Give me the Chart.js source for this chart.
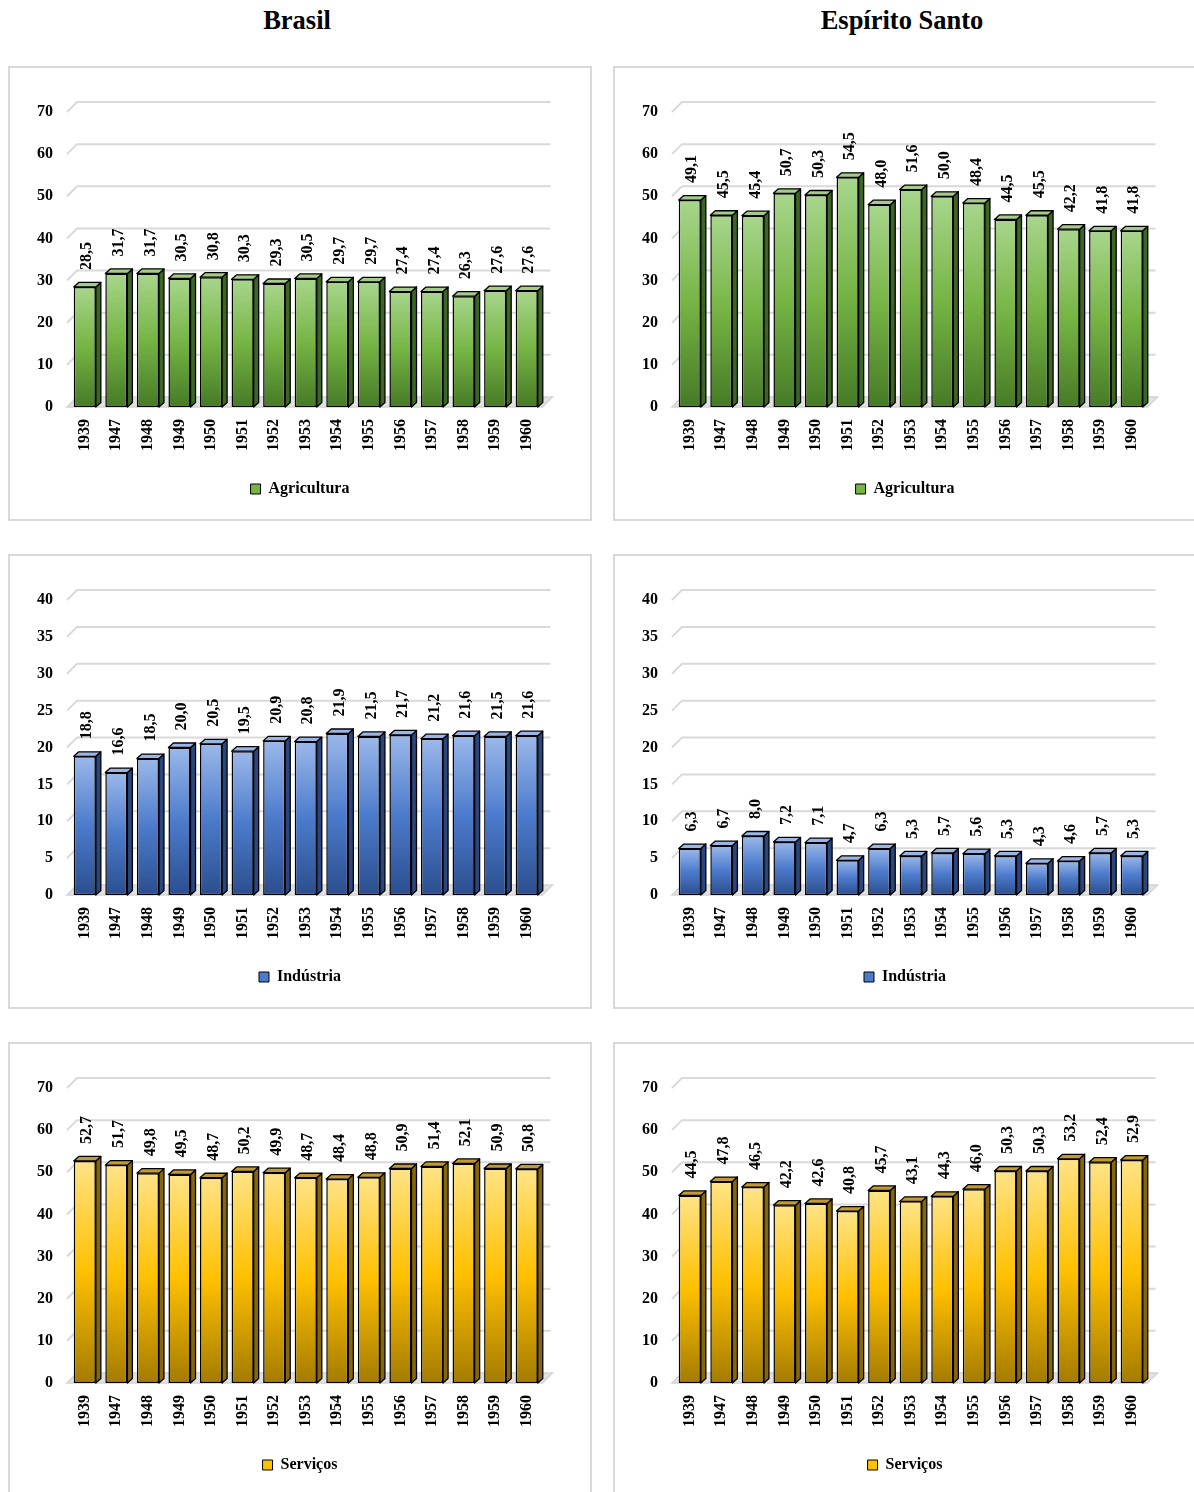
<!DOCTYPE html>
<html lang="pt">
<head>
<meta charset="utf-8">
<title>Brasil e Espírito Santo – composição setorial 1939-1960</title>
<script src="https://cdn.jsdelivr.net/npm/chart.js@4.4.1/dist/chart.umd.min.js"></script>
<style>
  html, body { margin: 0; padding: 0; background: #fff; }
  body { position: relative; width: 1194px; height: 1492px; overflow: hidden;
         font-family: "Liberation Serif", "Times New Roman", serif; }
  .title { position: absolute; top: 5px; width: 500px; text-align: center;
           font-weight: bold; font-size: 26.5px; color: #000; }
  .panel { position: absolute; box-sizing: border-box; border: 2px solid #d9d9d9; }
  canvas { position: absolute; }
</style>
</head>
<body>
<div class="title" style="left:47px">Brasil</div>
<div class="title" style="left:652px">Espírito Santo</div>
<div id="wrap"></div>
<script>
// ---- data -------------------------------------------------------------
const years = ['1939', '1947', '1948', '1949', '1950', '1951', '1952', '1953',
               '1954', '1955', '1956', '1957', '1958', '1959', '1960'];

const brAgricultura = [28.5, 31.7, 31.7, 30.5, 30.8, 30.3, 29.3, 30.5, 29.7, 29.7, 27.4, 27.4, 26.3, 27.6, 27.6];
const esAgricultura = [49.1, 45.5, 45.4, 50.7, 50.3, 54.5, 48.0, 51.6, 50.0, 48.4, 44.5, 45.5, 42.2, 41.8, 41.8];
const brIndustria   = [18.8, 16.6, 18.5, 20.0, 20.5, 19.5, 20.9, 20.8, 21.9, 21.5, 21.7, 21.2, 21.6, 21.5, 21.6];
const esIndustria   = [6.3, 6.7, 8.0, 7.2, 7.1, 4.7, 6.3, 5.3, 5.7, 5.6, 5.3, 4.3, 4.6, 5.7, 5.3];
const brServicos    = [52.7, 51.7, 49.8, 49.5, 48.7, 50.2, 49.9, 48.7, 48.4, 48.8, 50.9, 51.4, 52.1, 50.9, 50.8];
const esServicos    = [44.5, 47.8, 46.5, 42.2, 42.6, 40.8, 45.7, 43.1, 44.3, 46.0, 50.3, 50.3, 53.2, 52.4, 52.9];

const setores = ['Agricultura', 'Indústria', 'Serviços'];
const axisMax  = [70, 40, 70];
const axisStep = [10, 5, 10];

// ---- styling ----------------------------------------------------------
const palettes = {
  green: { light: '#a8d68c', mid: '#76b444', dark: '#467a26', top: '#a3cc88', side: '#3b6722' },
  blue:  { light: '#9bb8ea', mid: '#4c7bcc', dark: '#2b4e8e', top: '#9ab6e6', side: '#29467e' },
  gold:  { light: '#ffe386', mid: '#ffc000', dark: '#a47b00', top: '#c29a30', side: '#866606' }
};
const FONT = '"Liberation Serif", "Times New Roman", serif';
const WALL = 10;      // depth of the back wall / floor
const BAR_DX = 5;     // bar depth offsets
const BAR_DY = 4.5;

const fmt = v => v.toFixed(1).replace('.', ',');

function frontFill(pal) {
  return c => {
    const ch = c.chart;
    if (c.type !== 'data' || !ch.chartArea || !ch.scales.y) return pal.mid;
    const y = ch.scales.y;
    const top = y.getPixelForValue(c.raw);
    const bot = y.getPixelForValue(0);
    const g = ch.ctx.createLinearGradient(0, top, 0, bot);
    g.addColorStop(0, pal.light);
    g.addColorStop(0.5, pal.mid);
    g.addColorStop(1, pal.dark);
    return g;
  };
}

// floor, back-wall grid, bar sides/tops and value labels
const bars3d = {
  id: 'bars3d',
  beforeDatasetsDraw(chart) {
    const { ctx, chartArea: a, scales: { y } } = chart;
    const x0 = a.left - 2;
    const yb = y.getPixelForValue(0);
    ctx.save();
    ctx.fillStyle = '#e2e2e2';
    ctx.strokeStyle = '#d4d4d4';
    ctx.lineWidth = 1.5;
    ctx.beginPath();
    ctx.moveTo(x0, yb);
    ctx.lineTo(a.right, yb);
    ctx.lineTo(a.right + WALL, yb - WALL);
    ctx.lineTo(x0 + WALL, yb - WALL);
    ctx.closePath();
    ctx.fill();
    ctx.stroke();
    ctx.strokeStyle = '#d9d9d9';
    ctx.lineWidth = 2;
    y.ticks.forEach(t => {
      if (t.value === 0) return;
      const py = y.getPixelForValue(t.value);
      ctx.beginPath();
      ctx.moveTo(x0, py);
      ctx.lineTo(x0 + WALL, py - WALL);
      ctx.lineTo(a.right + WALL - 2, py - WALL);
      ctx.stroke();
    });
    ctx.restore();
  },
  afterDatasetsDraw(chart, args, opts) {
    const { ctx } = chart;
    const pal = opts.palette;
    const meta = chart.getDatasetMeta(0);
    const values = chart.data.datasets[0].data;
    ctx.save();
    ctx.lineJoin = 'round';
    ctx.strokeStyle = '#000';
    ctx.lineWidth = 1.3;
    meta.data.forEach(el => {
      const x1 = el.x - el.width / 2, x2 = el.x + el.width / 2;
      const top = el.y, base = el.base;
      // side face
      ctx.fillStyle = pal.side;
      ctx.beginPath();
      ctx.moveTo(x2, top);
      ctx.lineTo(x2 + BAR_DX, top - BAR_DY);
      ctx.lineTo(x2 + BAR_DX, base - BAR_DY);
      ctx.lineTo(x2, base);
      ctx.closePath();
      ctx.fill();
      ctx.stroke();
      // top face
      ctx.fillStyle = pal.top;
      ctx.beginPath();
      ctx.moveTo(x1, top);
      ctx.lineTo(x2, top);
      ctx.lineTo(x2 + BAR_DX, top - BAR_DY);
      ctx.lineTo(x1 + BAR_DX, top - BAR_DY);
      ctx.closePath();
      ctx.fill();
      ctx.stroke();
    });
    // value labels
    ctx.fillStyle = '#000';
    ctx.font = 'bold 16px ' + FONT;
    ctx.textAlign = 'left';
    ctx.textBaseline = 'middle';
    meta.data.forEach((el, i) => {
      ctx.save();
      ctx.translate(el.x + 2.5, el.y - 17);
      ctx.rotate(-Math.PI / 2);
      ctx.fillText(fmt(values[i]), 0, 0);
      ctx.restore();
    });
    ctx.restore();
  }
};

// ---- panels -----------------------------------------------------------
const PANEL_W = 582, PANEL_H = 453;
const colX = [9, 614];
const rowY = [67, 555, 1043];
const series = [
  [brAgricultura, esAgricultura],
  [brIndustria, esIndustria],
  [brServicos, esServicos]
];
const rowPalette = [palettes.green, palettes.blue, palettes.gold];

const wrap = document.getElementById('wrap');

series.forEach((pair, r) => {
  pair.forEach((values, c) => {
    const border = document.createElement('div');
    border.className = 'panel';
    border.style.left = (colX[c] - 1) + 'px';
    border.style.top = (rowY[r] - 1) + 'px';
    border.style.width = (PANEL_W + 2) + 'px';
    border.style.height = (PANEL_H + 2) + 'px';
    wrap.appendChild(border);

    const canvas = document.createElement('canvas');
    canvas.width = PANEL_W;
    canvas.height = PANEL_H;
    canvas.style.left = colX[c] + 'px';
    canvas.style.top = rowY[r] + 'px';
    canvas.style.width = PANEL_W + 'px';
    canvas.style.height = PANEL_H + 'px';
    wrap.appendChild(canvas);

    const pal = rowPalette[r];
    new Chart(canvas, {
      type: 'bar',
      data: {
        labels: years,
        datasets: [{
          label: setores[r],
          data: values,
          backgroundColor: frontFill(pal),
          borderColor: '#000',
          borderWidth: 1.5,
          borderSkipped: false,
          barPercentage: 0.7,
          categoryPercentage: 1
        }]
      },
      options: {
        responsive: false,
        animation: false,
        devicePixelRatio: 1,
        layout: { autoPadding: false, padding: { left: 0, right: 0, top: 45, bottom: 13 } },
        scales: {
          x: {
            grid: { display: false, drawTicks: false },
            border: { display: false },
            ticks: {
              autoSkip: false, minRotation: 90, maxRotation: 90, padding: 12,
              color: '#000', font: { family: FONT, size: 16, weight: 'bold' }
            },
            afterFit: s => { s.height = 64; }
          },
          y: {
            min: 0, max: axisMax[r],
            grid: { display: false, drawTicks: false },
            border: { display: false },
            ticks: {
              stepSize: axisStep[r], padding: 16,
              color: '#000', font: { family: FONT, size: 16, weight: 'bold' }
            },
            afterFit: s => { s.width = 60; }
          },
          // empty right-hand gutter that leaves room for the wall depth
          gutter: {
            type: 'linear', position: 'right', display: true,
            grid: { display: false, drawTicks: false },
            border: { display: false },
            ticks: { display: false },
            afterFit: s => { s.width = 48.5; }
          }
        },
        plugins: {
          tooltip: { enabled: false },
          bars3d: { palette: pal },
          legend: {
            position: 'bottom',
            labels: {
              boxWidth: 10, boxHeight: 10, padding: 10,
              color: '#000', font: { family: FONT, size: 16, weight: 'bold' },
              generateLabels: ch => [{
                text: ch.data.datasets[0].label,
                fillStyle: pal.mid, strokeStyle: '#000', lineWidth: 1,
                hidden: false, datasetIndex: 0
              }]
            }
          }
        }
      },
      plugins: [bars3d]
    });
  });
});
</script>
</body>
</html>
